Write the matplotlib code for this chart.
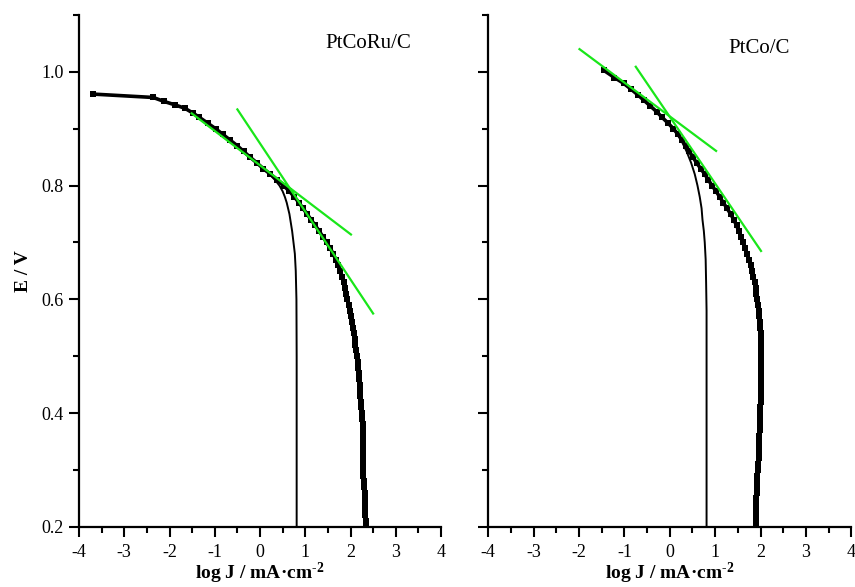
import matplotlib
matplotlib.use("Agg")
import matplotlib.pyplot as plt
from matplotlib.ticker import MultipleLocator

plt.rcParams['font.family'] = ['Liberation Serif', 'DejaVu Serif']
plt.rcParams['mathtext.default'] = 'regular'
plt.rcParams['axes.unicode_minus'] = False

# ---------------- data ----------------
# Left panel: PtCoRu/C
ru_meas_E = [0.961, 0.955, 0.948, 0.942, 0.936, 0.927, 0.92, 0.91, 0.90, 0.89, 0.88, 0.87, 0.86,
             0.85, 0.84, 0.83, 0.82, 0.81, 0.80, 0.79, 0.78, 0.77, 0.76, 0.75, 0.74, 0.73, 0.72,
             0.71, 0.70, 0.69, 0.68, 0.67, 0.66, 0.65, 0.64, 0.63, 0.62, 0.61, 0.60, 0.59, 0.58,
             0.57, 0.56, 0.55, 0.54, 0.53, 0.52, 0.51, 0.50, 0.49, 0.48, 0.47, 0.46, 0.45, 0.44,
             0.43, 0.42, 0.41, 0.40, 0.39, 0.38, 0.37, 0.36, 0.35, 0.34, 0.33, 0.32, 0.31, 0.30,
             0.29, 0.28, 0.27, 0.26, 0.25, 0.24, 0.23, 0.22, 0.21, 0.20]
ru_meas_logJ = [-3.70, -2.36, -2.12, -1.88, -1.66, -1.47, -1.34, -1.16, -0.98, -0.82, -0.66, -0.50, -0.36,
                -0.22, -0.07, 0.07, 0.23, 0.38, 0.52, 0.65, 0.76, 0.86, 0.95, 1.04, 1.13, 1.22, 1.31,
                1.39, 1.47, 1.55, 1.62, 1.67, 1.72, 1.77, 1.82, 1.85, 1.88, 1.91, 1.93, 1.96, 1.99,
                2.01, 2.03, 2.05, 2.07, 2.09, 2.11, 2.13, 2.14, 2.16, 2.17, 2.18, 2.19, 2.20, 2.21,
                2.22, 2.23, 2.24, 2.25, 2.26, 2.27, 2.27, 2.28, 2.28, 2.28, 2.28, 2.28, 2.28, 2.27,
                2.27, 2.29, 2.30, 2.31, 2.32, 2.32, 2.33, 2.33, 2.34, 2.34]
ru_kin_E = [0.961, 0.955, 0.936, 0.92, 0.90, 0.88, 0.86, 0.84, 0.83, 0.82, 0.81, 0.80, 0.79, 0.78,
            0.77, 0.76, 0.75, 0.74, 0.72, 0.70, 0.68, 0.65, 0.60, 0.50, 0.40, 0.30, 0.20]
ru_kin_logJ = [-3.70, -2.36, -1.66, -1.34, -0.98, -0.66, -0.36, -0.07, 0.07, 0.21, 0.33, 0.43, 0.50, 0.55,
               0.59, 0.62, 0.65, 0.67, 0.71, 0.74, 0.77, 0.79, 0.805, 0.81, 0.81, 0.81, 0.81]
ru_tafel1_x = [-1.51, 2.01]
ru_tafel1_E = [0.927, 0.714]
ru_tafel2_x = [-0.50, 2.50]
ru_tafel2_E = [0.934, 0.575]

# Right panel: PtCo/C
co_meas_E = [1.003, 0.99, 0.98, 0.97, 0.96, 0.95, 0.94, 0.93, 0.92, 0.91, 0.90, 0.89, 0.88, 0.87,
             0.86, 0.85, 0.84, 0.83, 0.82, 0.81, 0.80, 0.79, 0.78, 0.77, 0.76, 0.75, 0.74, 0.73,
             0.72, 0.71, 0.70, 0.69, 0.68, 0.67, 0.66, 0.65, 0.64, 0.63, 0.62, 0.61, 0.60, 0.59,
             0.58, 0.57, 0.56, 0.55, 0.54, 0.53, 0.52, 0.51, 0.50, 0.49, 0.48, 0.47, 0.46, 0.45,
             0.44, 0.43, 0.42, 0.41, 0.40, 0.39, 0.38, 0.37, 0.36, 0.35, 0.34, 0.33, 0.32, 0.31,
             0.30, 0.29, 0.28, 0.27, 0.26, 0.25, 0.24, 0.23, 0.22, 0.21, 0.20]
co_meas_logJ = [-1.46, -1.22, -1.02, -0.86, -0.71, -0.57, -0.43, -0.29, -0.17, -0.04, 0.08, 0.18, 0.27, 0.35,
                0.43, 0.51, 0.59, 0.68, 0.77, 0.85, 0.93, 1.02, 1.10, 1.18, 1.26, 1.34, 1.41, 1.47,
                1.52, 1.57, 1.62, 1.66, 1.70, 1.74, 1.78, 1.81, 1.84, 1.87, 1.89, 1.91, 1.93, 1.95,
                1.96, 1.97, 1.98, 1.99, 2.00, 2.01, 2.02, 2.02, 2.02, 2.02, 2.01, 2.01, 2.01, 2.00,
                2.00, 2.00, 2.00, 1.99, 1.99, 1.98, 1.98, 1.98, 1.97, 1.97, 1.97, 1.96, 1.96, 1.95,
                1.94, 1.93, 1.93, 1.92, 1.92, 1.91, 1.91, 1.90, 1.90, 1.89, 1.89]
co_kin_E = [1.003, 0.98, 0.95, 0.92, 0.90, 0.89, 0.88, 0.87, 0.86, 0.85, 0.84, 0.82, 0.80, 0.78,
            0.76, 0.74, 0.72, 0.70, 0.67, 0.63, 0.58, 0.50, 0.40, 0.30, 0.20]
co_kin_logJ = [-1.46, -1.02, -0.57, -0.17, 0.08, 0.17, 0.25, 0.31, 0.37, 0.42, 0.47, 0.55, 0.61, 0.66,
               0.70, 0.72, 0.75, 0.77, 0.79, 0.80, 0.81, 0.81, 0.81, 0.81, 0.81]
co_tafel1_x = [-1.99, 1.02]
co_tafel1_E = [1.040, 0.861]
co_tafel2_x = [-0.75, 2.01]
co_tafel2_E = [1.009, 0.685]

panel_names = ["PtCoRu/C", "PtCo/C"]
x_ticks = [-4, -3, -2, -1, 0, 1, 2, 3, 4]
y_ticks = [0.2, 0.4, 0.6, 0.8, 1.0]

# ---------------- figure ----------------
fig = plt.figure(figsize=(8.55, 5.87), dpi=100)
ax1 = fig.add_axes([0.0924, 0.1027, 0.4234, 0.8717])
ax2 = fig.add_axes([0.5711, 0.1027, 0.4246, 0.8717])

GREEN = '#19e619'
XLABEL = 'log J / mA·cm$^{\u20102}$'

def style(ax, show_ylabels):
    ax.set_xlim(-4, 4)
    ax.set_ylim(0.2, 1.1)
    ax.set_xticks(x_ticks)
    ax.set_xticklabels([str(t) for t in x_ticks])
    ax.set_yticks(y_ticks)
    if show_ylabels:
        ax.set_yticklabels([f"{t:.1f}" for t in y_ticks])
    else:
        ax.set_yticklabels([])
    ax.xaxis.set_minor_locator(MultipleLocator(0.5))
    ax.yaxis.set_minor_locator(MultipleLocator(0.1))
    for s in ['top', 'right']:
        ax.spines[s].set_visible(False)
    for s in ['left', 'bottom']:
        ax.spines[s].set_linewidth(1.6)
    ax.tick_params(which='major', direction='out', length=7, width=1.5,
                   labelsize=13, pad=4)
    ax.tick_params(axis='x', which='major', pad=5.5)
    ax.tick_params(which='minor', direction='out', length=4, width=1.5)
    ax.set_xlabel(XLABEL, fontsize=14, fontweight='bold', labelpad=0)

for ax, kx, ky, mx, my, t1x, t1y, t2x, t2y in [
        (ax1, ru_kin_logJ, ru_kin_E, ru_meas_logJ, ru_meas_E,
         ru_tafel1_x, ru_tafel1_E, ru_tafel2_x, ru_tafel2_E),
        (ax2, co_kin_logJ, co_kin_E, co_meas_logJ, co_meas_E,
         co_tafel1_x, co_tafel1_E, co_tafel2_x, co_tafel2_E)]:
    ax.plot(kx, ky, color='black', lw=1.4, zorder=2)
    ax.plot(mx, my, color='black', lw=2.6, marker='s', markersize=4.8,
            markeredgewidth=0, zorder=3)
    ax.plot(t1x, t1y, color=GREEN, lw=1.6, zorder=4)
    ax.plot(t2x, t2y, color=GREEN, lw=1.6, zorder=4)

style(ax1, True)
style(ax2, False)
ax1.set_ylabel('E / V', fontsize=14, fontweight='bold', labelpad=7)

ax1.text(2.39, 1.042, panel_names[0], fontsize=15, ha='center', va='baseline')
ax2.text(1.97, 1.033, panel_names[1], fontsize=15, ha='center', va='baseline')

fig.savefig('out.png', dpi=100)
